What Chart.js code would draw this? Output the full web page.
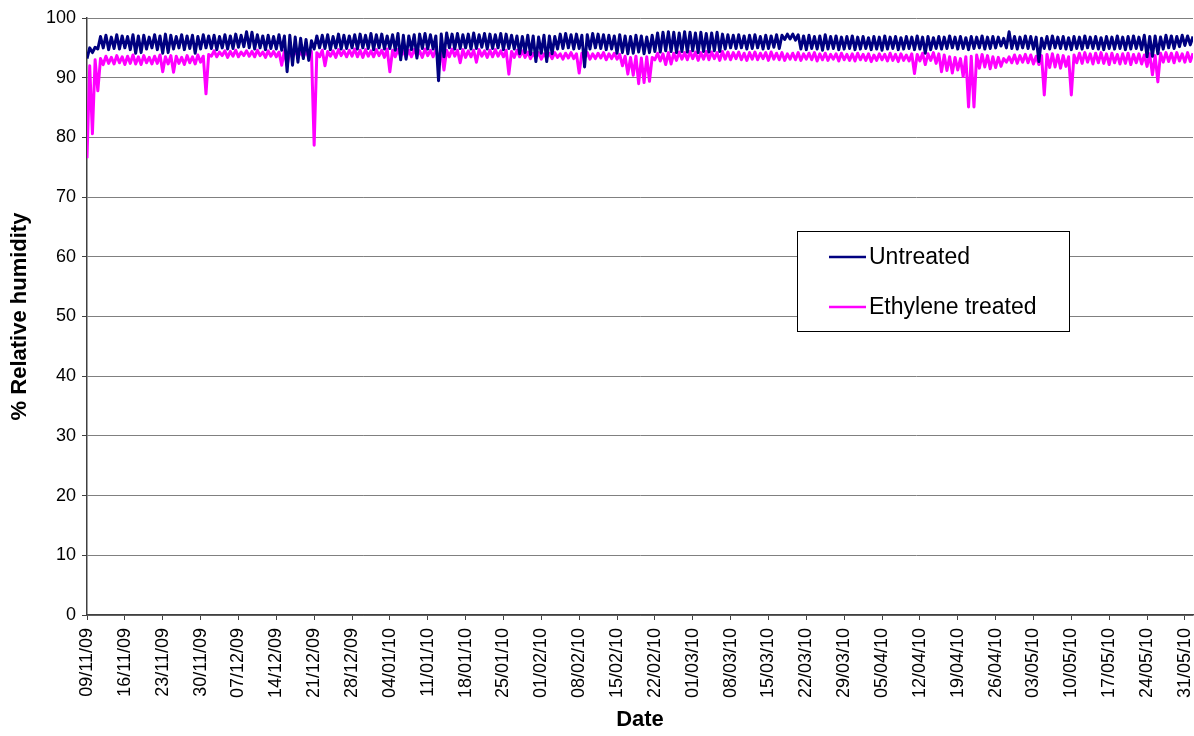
<!DOCTYPE html>
<html>
<head>
<meta charset="utf-8">
<title>% Relative humidity</title>
<script src="https://cdn.jsdelivr.net/npm/chart.js@4"></script>
<style>
  html, body { margin: 0; padding: 0; background: #ffffff; }
  #wrap { width: 1194px; height: 736px; }
</style>
</head>
<body>
<div id="wrap"><canvas id="rh" width="1194" height="736"></canvas></div>
<script>
// Daily relative humidity readings, 09/11/09 onwards (day 0 = 09/11/09).
// Each day holds a low reading (start of day) and a high reading (mid day).
const seriesNames = ['Untreated', 'Ethylene treated'];
const seriesColors = ['#000080', '#FF00FF'];

const untreatedLow = [
  93.2, 94.2, 94.8, 95.0, 94.7, 94.9, 94.8, 95.0, 94.7, 94.1,
  94.2, 94.8, 95.0, 94.7, 94.1, 94.2, 94.8, 95.0, 94.7, 94.9,
  94.1, 94.8, 95.0, 94.9, 94.7, 95.0, 94.8, 94.9, 95.1, 95.2,
  95.0, 94.8, 95.0, 94.7, 94.9, 94.8, 94.6, 91.0, 92.1, 92.6,
  93.2, 92.9, 94.8, 95.0, 94.9, 94.7, 95.0, 94.8, 94.9, 95.0,
  94.8, 95.0, 94.9, 94.7, 95.0, 94.8, 94.9, 94.6, 93.0, 93.1,
  94.7, 93.3, 94.9, 94.8, 94.8, 89.5, 93.5, 95.0, 94.8, 94.9,
  95.0, 94.8, 94.9, 95.1, 94.8, 94.9, 95.0, 94.7, 94.9, 94.8,
  94.0, 94.2, 93.9, 92.7, 94.1, 92.7, 94.0, 94.8, 94.9, 95.0,
  94.8, 94.9, 91.8, 94.8, 95.0, 94.9, 94.7, 94.8, 94.1, 94.2,
  94.0, 94.1, 94.3, 94.0, 94.2, 94.4, 94.3, 94.5, 94.4, 94.2,
  94.4, 94.3, 94.5, 94.2, 94.4, 94.3, 94.5, 94.4, 94.8, 95.0,
  94.9, 95.0, 94.8, 94.9, 95.0, 94.8, 94.9, 95.1, 94.9, 96.4,
  96.5, 96.3, 94.8, 94.7, 94.9, 94.8, 94.6, 94.8, 94.9, 94.7,
  94.8, 94.9, 94.7, 94.8, 94.9, 94.7, 94.8, 94.6, 94.8, 94.9,
  94.7, 94.8, 94.9, 94.7, 94.8, 94.1, 94.7, 94.9, 94.8, 94.9,
  95.0, 94.8, 94.9, 94.7, 94.9, 95.0, 94.8, 94.9, 95.0, 95.3,
  95.0, 94.9, 94.8, 95.0, 94.9, 94.8, 92.7, 94.9, 94.8, 95.0,
  94.9, 94.8, 94.7, 94.9, 94.8, 95.0, 94.9, 94.8, 94.7, 94.9,
  94.8, 94.9, 94.7, 94.8, 94.9, 94.7, 93.5, 93.6, 94.0, 94.8,
  95.0, 94.9, 95.2, 95.4, 95.5
];
const untreatedHigh = [
  95.0, 95.1, 96.9, 97.1, 96.8, 97.2, 97.0, 96.9, 97.2, 97.0,
  97.1, 96.8, 97.2, 97.0, 97.3, 97.1, 96.9, 97.2, 97.0, 97.1,
  96.9, 97.2, 97.0, 97.1, 96.9, 97.2, 97.0, 97.3, 97.1, 97.7,
  97.6, 97.2, 97.0, 97.1, 96.9, 97.2, 97.0, 97.1, 96.8, 96.6,
  96.4, 96.2, 97.0, 97.1, 97.2, 96.9, 97.3, 97.1, 97.0, 97.2,
  97.3, 97.1, 97.4, 97.2, 97.3, 97.0, 97.2, 97.4, 97.1, 97.0,
  97.2, 97.3, 97.4, 97.2, 97.0, 97.3, 97.5, 97.3, 97.4, 97.2,
  97.3, 97.5, 97.2, 97.4, 97.3, 97.2, 97.4, 97.3, 97.1, 97.0,
  96.9, 97.1, 97.0, 96.8, 97.1, 97.0, 96.9, 97.3, 97.4, 97.2,
  97.3, 97.1, 97.2, 97.4, 97.3, 97.2, 97.1, 97.0, 97.2, 97.0,
  96.9, 97.1, 97.0, 96.8, 97.1, 97.5, 97.6, 97.7, 97.6, 97.5,
  97.7, 97.6, 97.5, 97.6, 97.4, 97.5, 97.6, 97.3, 97.2, 97.1,
  97.2, 97.0, 97.1, 97.2, 96.9, 97.1, 97.0, 97.2, 97.1, 97.3,
  97.3, 97.2, 97.0, 97.1, 96.9, 97.0, 97.2, 96.9, 97.0, 96.8,
  96.9, 97.0, 96.8, 96.9, 96.7, 96.9, 96.8, 97.0, 96.8, 96.9,
  96.7, 96.9, 96.8, 97.0, 96.8, 96.9, 96.7, 96.9, 96.8, 97.0,
  96.8, 96.9, 96.7, 96.9, 96.8, 97.0, 96.8, 96.9, 96.8, 96.6,
  97.7, 96.9, 96.8, 97.0, 96.9, 96.8, 96.6, 96.9, 97.0, 96.8,
  96.9, 96.7, 96.9, 96.8, 97.0, 96.8, 96.9, 96.7, 96.9, 96.8,
  97.0, 96.8, 96.9, 97.0, 96.8, 97.1, 96.9, 97.0, 96.8, 97.1,
  97.0, 96.9, 97.1, 97.0, 96.9
];
const treatedLow = [
  76.5, 80.6, 87.8, 92.2, 92.4, 92.3, 92.5, 92.2, 92.4, 92.3,
  92.2, 92.5, 92.3, 92.4, 91.0, 92.3, 90.9, 92.4, 92.2, 92.5,
  92.3, 92.6, 87.3, 93.6, 93.5, 93.7, 93.4, 93.6, 93.5, 93.7,
  93.6, 93.5, 93.7, 93.4, 93.6, 93.5, 92.1, 92.0, 93.4, 93.5,
  93.5, 93.4, 78.7, 93.5, 92.0, 93.6, 93.4, 93.7, 93.5, 93.6,
  93.5, 93.4, 93.6, 93.5, 93.7, 93.4, 91.0, 93.5, 93.6, 93.4,
  93.5, 93.6, 93.4, 93.7, 93.5, 93.4, 91.3, 93.5, 93.6, 92.5,
  93.4, 93.5, 92.6, 93.6, 93.4, 93.5, 93.6, 93.5, 90.6, 93.4,
  93.5, 93.4, 93.2, 93.3, 93.1, 93.3, 93.2, 93.4, 93.1, 93.3,
  93.2, 90.8, 93.3, 93.1, 93.2, 93.3, 93.0, 93.2, 93.1, 92.0,
  90.6, 90.4, 89.0, 89.2, 89.4, 93.0, 92.8, 92.2, 92.3, 92.9,
  93.1, 93.0, 93.2, 92.9, 93.1, 93.0, 93.2, 92.9, 93.1, 93.0,
  93.2, 93.0, 92.9, 93.1, 93.0, 93.2, 92.9, 93.1, 93.0, 92.9,
  93.1, 93.0, 92.9, 93.1, 93.0, 92.8, 93.0, 92.9, 93.1, 92.8,
  93.0, 92.9, 92.8, 93.0, 92.9, 92.7, 92.9, 93.0, 92.8, 92.9,
  92.7, 92.9, 92.8, 90.7, 92.8, 92.2, 92.9, 92.4, 91.0, 91.2,
  90.8, 91.3, 90.2, 85.1, 85.1, 91.6, 91.8, 91.5, 91.7, 91.9,
  92.6, 92.5, 92.4, 92.6, 92.5, 92.3, 92.2, 87.1, 91.7, 91.8,
  91.6, 91.9, 87.1, 92.5, 92.4, 92.6, 92.3, 92.5, 92.4, 92.2,
  92.5, 92.3, 92.4, 92.2, 92.5, 92.3, 91.9, 90.5, 89.3, 92.6,
  92.7, 92.5, 92.8, 92.6, 92.7
];
const treatedHigh = [
  92.0, 93.0, 93.2, 93.6, 93.4, 93.7, 93.5, 93.6, 93.8, 93.5,
  93.7, 93.4, 93.6, 93.8, 93.5, 93.7, 93.6, 93.4, 93.7, 93.5,
  93.8, 93.6, 93.9, 94.5, 94.3, 94.5, 94.4, 94.6, 94.3, 94.5,
  94.4, 94.6, 94.3, 94.5, 94.4, 94.3, 94.5, 94.4, 94.6, 94.3,
  94.5, 94.4, 94.2, 94.6, 94.4, 94.5, 94.7, 94.5, 94.6, 94.8,
  94.6, 94.7, 94.5, 94.7, 94.6, 94.8, 94.6, 94.7, 94.5, 94.6,
  94.7, 94.5, 94.8, 94.6, 94.7, 94.5, 94.6, 94.8, 94.6, 94.7,
  94.5, 94.6, 94.7, 94.5, 94.6, 94.7, 94.5, 94.6, 94.4, 94.6,
  94.5, 94.3, 94.1, 94.2, 94.0, 94.1, 94.2, 94.0, 94.1, 94.2,
  94.0, 94.1, 94.2, 94.0, 94.1, 94.2, 94.0, 94.1, 93.9, 93.6,
  93.4, 93.6, 93.3, 93.5, 93.4, 94.1, 94.0, 94.2, 94.1, 94.3,
  94.2, 94.4, 94.3, 94.2, 94.4, 94.3, 94.2, 94.4, 94.3, 94.2,
  94.3, 94.1, 94.2, 94.3, 94.1, 94.2, 94.3, 94.1, 94.2, 94.0,
  94.1, 94.2, 94.0, 94.1, 94.2, 94.0, 94.1, 93.9, 94.0, 94.1,
  93.9, 94.0, 94.1, 93.9, 94.0, 93.8, 94.0, 93.9, 94.1, 93.9,
  94.0, 93.8, 94.0, 93.9, 94.1, 94.0, 94.2, 94.0, 93.8, 93.5,
  93.4, 93.2, 93.5, 93.6, 93.8, 93.9, 93.7, 93.5, 93.4, 93.2,
  93.5, 93.8, 93.7, 93.9, 93.8, 93.6, 93.7, 93.9, 94.0, 93.8,
  93.7, 93.5, 93.8, 94.1, 94.2, 94.0, 94.1, 94.2, 94.0, 94.1,
  93.9, 94.0, 94.1, 93.9, 94.0, 93.8, 94.0, 93.7, 94.1, 94.2,
  94.1, 94.2, 94.0, 94.2, 94.1
];

// Weekly date ticks (day number and label).
const tickDays = [0, 7, 14, 21, 28, 35, 42, 49, 56, 63, 70, 77, 84, 91, 98,
  105, 112, 119, 126, 133, 140, 147, 154, 161, 168, 175, 182, 189, 196, 203];
const tickLabels = ['09/11/09', '16/11/09', '23/11/09', '30/11/09', '07/12/09',
  '14/12/09', '21/12/09', '28/12/09', '04/01/10', '11/01/10', '18/01/10',
  '25/01/10', '01/02/10', '08/02/10', '15/02/10', '22/02/10', '01/03/10',
  '08/03/10', '15/03/10', '22/03/10', '29/03/10', '05/04/10', '12/04/10',
  '19/04/10', '26/04/10', '03/05/10', '10/05/10', '17/05/10', '24/05/10',
  '31/05/10'];
const yTicks = [0, 10, 20, 30, 40, 50, 60, 70, 80, 90, 100];

const FONT = '"Liberation Sans", Arial, Helvetica, sans-serif';

// Low reading at the start of each day, high reading at mid day.
function toReadings(low, high) {
  const pts = [];
  for (let d = 0; d < low.length; d++) {
    pts.push({ x: d, y: low[d] });
    pts.push({ x: d + 0.5, y: high[d] });
  }
  return pts;
}

// Legend box drawn inside the plot area.
const boxLegend = {
  id: 'boxLegend',
  afterDraw(chart) {
    const ctx = chart.ctx;
    ctx.save();
    ctx.fillStyle = '#ffffff';
    ctx.fillRect(797.5, 231.5, 272, 100);
    ctx.strokeStyle = '#000000';
    ctx.lineWidth = 1;
    ctx.strokeRect(797.5, 231.5, 272, 100);
    ctx.font = '23px ' + FONT;
    ctx.textBaseline = 'middle';
    ctx.textAlign = 'left';
    const rows = [257, 307];
    chart.data.datasets.forEach((ds, i) => {
      ctx.strokeStyle = ds.borderColor;
      ctx.lineWidth = 2.5;
      ctx.beginPath();
      ctx.moveTo(829, rows[i]);
      ctx.lineTo(866, rows[i]);
      ctx.stroke();
      ctx.fillStyle = '#000000';
      ctx.fillText(ds.label, 869, rows[i] + 1);
    });
    ctx.restore();
  }
};

new Chart(document.getElementById('rh'), {
  type: 'line',
  data: {
    datasets: [
      {
        label: seriesNames[0],
        data: toReadings(untreatedLow, untreatedHigh),
        borderColor: seriesColors[0],
        backgroundColor: seriesColors[0],
        borderWidth: 3,
        borderJoinStyle: 'round',
        pointRadius: 0,
        tension: 0,
        fill: false
      },
      {
        label: seriesNames[1],
        data: toReadings(treatedLow, treatedHigh),
        borderColor: seriesColors[1],
        backgroundColor: seriesColors[1],
        borderWidth: 3,
        borderJoinStyle: 'round',
        pointRadius: 0,
        tension: 0,
        fill: false
      }
    ]
  },
  options: {
    responsive: false,
    animation: false,
    devicePixelRatio: 1,
    layout: { padding: { top: 18, right: 1, bottom: 3, left: 0 } },
    plugins: {
      legend: { display: false },
      tooltip: { enabled: false }
    },
    scales: {
      x: {
        type: 'linear',
        min: 0,
        max: 204.5,
        afterBuildTicks(scale) {
          scale.ticks = tickDays.map(v => ({ value: v }));
        },
        afterFit(scale) {
          scale.height = 118;
          scale.paddingLeft = 0;
          scale.paddingRight = 0;
        },
        ticks: {
          autoSkip: false,
          maxRotation: 90,
          minRotation: 90,
          padding: 8,
          color: '#000000',
          font: { family: FONT, size: 18 },
          callback(value) {
            const i = tickDays.indexOf(value);
            return i >= 0 ? tickLabels[i] : '';
          }
        },
        grid: {
          drawOnChartArea: false,
          drawTicks: true,
          tickLength: 5,
          color: '#404040',
          tickColor: '#404040'
        },
        border: { display: true, color: '#404040', width: 1.5 },
        title: {
          display: true,
          text: 'Date',
          color: '#000000',
          font: { family: FONT, size: 22, weight: 'bold' },
          padding: { top: 0, bottom: 0 }
        }
      },
      y: {
        type: 'linear',
        min: 0,
        max: 100,
        afterBuildTicks(scale) {
          scale.ticks = yTicks.map(v => ({ value: v }));
        },
        afterFit(scale) {
          scale.width = 87;
          scale.paddingTop = 0;
          scale.paddingBottom = 0;
        },
        ticks: {
          padding: 6,
          color: '#000000',
          font: { family: FONT, size: 18 }
        },
        grid: {
          drawOnChartArea: true,
          drawTicks: true,
          tickLength: 5,
          color: '#808080',
          tickColor: '#404040',
          lineWidth: 1
        },
        border: { display: true, color: '#404040', width: 1.5 },
        title: {
          display: true,
          text: '% Relative humidity',
          color: '#000000',
          font: { family: FONT, size: 22, weight: 'bold' },
          padding: { top: 7, bottom: 0 }
        }
      }
    }
  },
  plugins: [boxLegend]
});
</script>
</body>
</html>
